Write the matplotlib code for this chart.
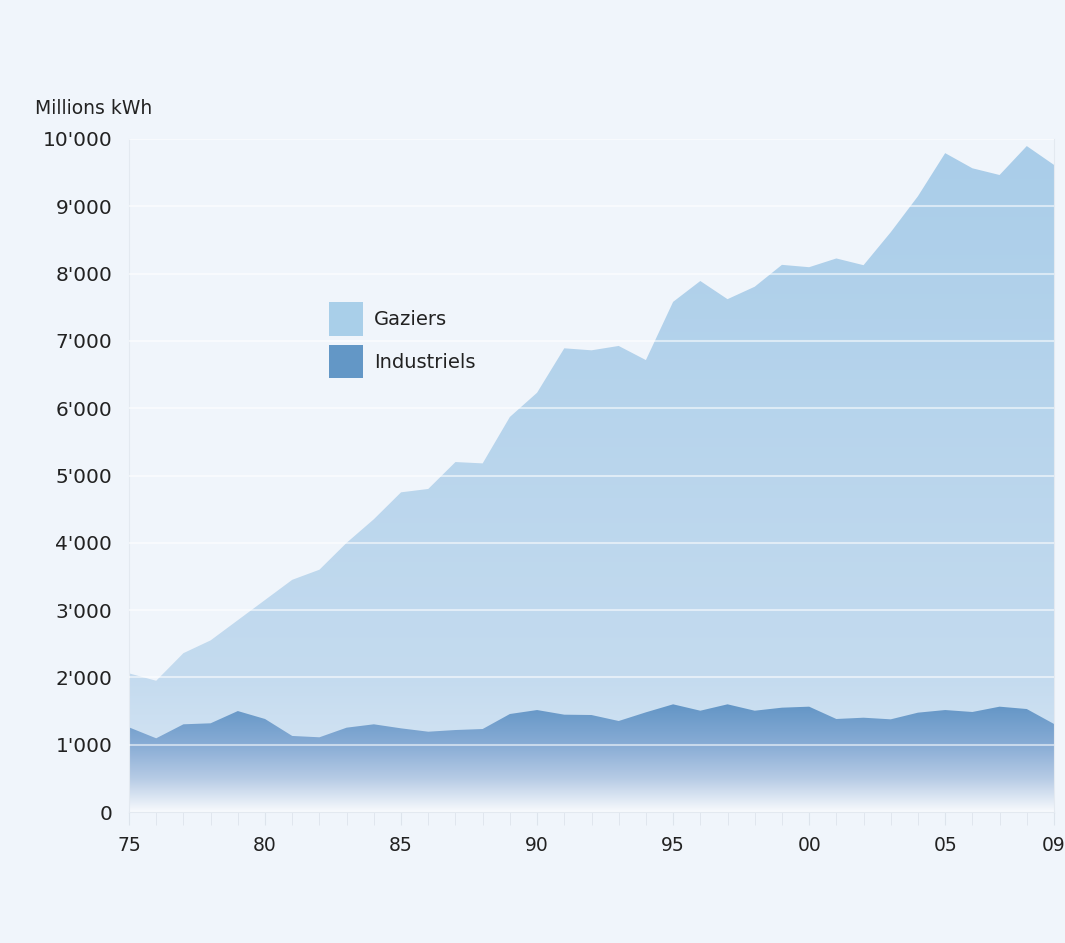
import numpy as np
import matplotlib
matplotlib.use("Agg")
import matplotlib.pyplot as plt
from matplotlib.colors import LinearSegmentedColormap
from matplotlib.patches import Patch
from matplotlib.ticker import FuncFormatter

years = list(range(1975, 2010))
gaziers = [2060, 1950, 2360, 2550, 2850, 3150, 3450, 3600, 4000, 4350,
           4750, 4800, 5200, 5180, 5870, 6230, 6890, 6860, 6925, 6715,
           7580, 7890, 7620, 7805, 8130, 8095, 8225, 8125, 8615, 9150,
           9790, 9565, 9465, 9895, 9615]
industriels = [1258, 1095, 1303, 1318, 1500, 1382, 1130, 1110, 1253, 1303,
               1243, 1193, 1218, 1233, 1456, 1515, 1446, 1441, 1352, 1481,
               1600, 1505, 1600, 1505, 1550, 1565, 1382, 1401, 1377, 1476,
               1515, 1486, 1565, 1530, 1308]
xtick_years = [1975, 1980, 1985, 1990, 1995, 2000, 2005, 2009]
xtick_labels = ["75", "80", "85", "90", "95", "00", "05", "09"]
yticks = list(range(0, 10001, 1000))

bg = "#f0f5fb"
fig = plt.figure(figsize=(10.65, 9.43), dpi=100, facecolor=bg)
ax = fig.add_axes([129/1065, 1-812/943, 925/1065, 673/943], facecolor=bg)

x = np.array(years, dtype=float)
g = np.array(gaziers, dtype=float)
ind = np.array(industriels, dtype=float)

def grad_fill(ax, x, y, y0, ymax, cmap, z):
    poly = ax.fill_between(x, y0, y, color="none", lw=0, zorder=z)
    grad = np.linspace(1, 0, 256).reshape(-1, 1)
    im = ax.imshow(grad, extent=[x[0], x[-1], 0, ymax], aspect="auto",
                   cmap=cmap, origin="upper", zorder=z, interpolation="bicubic")
    path = poly.get_paths()[0]
    im.set_clip_path(path, transform=ax.transData)
    return im

cm_g = LinearSegmentedColormap.from_list("g", [(0, "#dde9f6"), (0.2, "#c4dbef"), (1, "#a9cde9")])
cm_i = LinearSegmentedColormap.from_list("i", [(0, "#f8fafd"), (0.3, "#b6cbe5"), (0.6, "#88acd5"), (1, "#5f93c4")])

grad_fill(ax, x, g, 0, 10000, cm_g, 1)
grad_fill(ax, x, ind, 0, 1650, cm_i, 2)

for yv in yticks[1:]:
    ax.axhline(yv, color="white", alpha=0.55, lw=1.5, zorder=3)

ax.set_xlim(1975, 2009)
ax.set_ylim(0, 10000)
ax.set_yticks(yticks)
ax.yaxis.set_major_formatter(FuncFormatter(lambda v, p: f"{int(v):,}".replace(",", "'")))
ax.set_xticks(years, minor=True)
ax.set_xticks(xtick_years)
ax.set_xticklabels(xtick_labels)

ax.spines["top"].set_visible(False)
for s in ["left", "bottom", "right"]:
    ax.spines[s].set_color("#e3e9f0")
ax.tick_params(axis="y", length=0, pad=12, labelsize=14.5, labelcolor="#222222")
ax.tick_params(axis="x", which="both", length=9, color="#dde4ec", direction="out",
               pad=8, labelsize=13.5, labelcolor="#222222")

fig.text(35/1065, 1-108/943, "Millions kWh", fontsize=13.5, color="#222222", va="center", ha="left")

handles = [Patch(facecolor="#a9cfe9", edgecolor="none", label="Gaziers"),
           Patch(facecolor="#6397c6", edgecolor="none", label="Industriels")]
leg = ax.legend(handles=handles, loc="upper left", bbox_to_anchor=(200/925, (812-302)/673),
                frameon=False, fontsize=14, handlelength=1.75, handleheight=2.3,
                handletextpad=0.55, labelspacing=0.45, borderaxespad=0, borderpad=0)
for t in leg.get_texts():
    t.set_color("#222222")

fig.savefig("out.png", dpi=100, facecolor=bg)
